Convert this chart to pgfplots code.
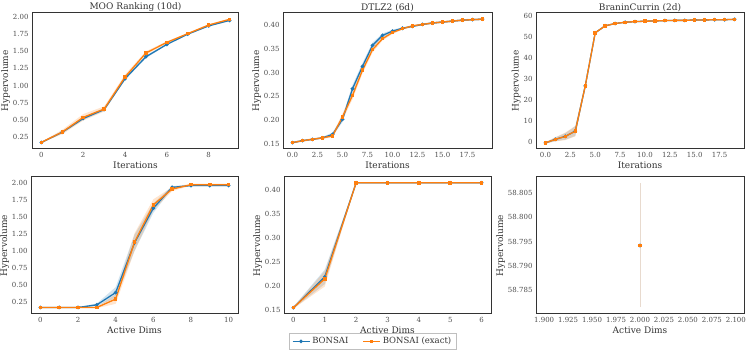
\documentclass[border=0pt]{standalone}
\usepackage{fontspec}
\setmainfont{DejaVu Serif}
\usepackage{pgfplots}
\usepackage{pgfplotstable}
\pgfplotsset{compat=1.18}
\usepgfplotslibrary{fillbetween}
\definecolor{cBlue}{RGB}{31,119,180}
\definecolor{cOrange}{RGB}{255,127,14}
\definecolor{cTan}{RGB}{232,218,206}

% columns: x, mean, lower, upper
\pgfplotstableread{
x m lo hi
0 0.170 0.165 0.175
1 0.320 0.305 0.335
2 0.520 0.500 0.540
3 0.650 0.630 0.670
4 1.100 1.080 1.120
5 1.420 1.400 1.440
6 1.600 1.590 1.610
7 1.750 1.740 1.760
8 1.870 1.862 1.878
9 1.950 1.945 1.955
}\mooB
\pgfplotstableread{
x m lo hi
0 0.172 0.165 0.179
1 0.323 0.290 0.356
2 0.537 0.490 0.584
3 0.658 0.620 0.696
4 1.125 1.090 1.160
5 1.475 1.450 1.500
6 1.630 1.615 1.645
7 1.757 1.747 1.767
8 1.883 1.875 1.891
9 1.966 1.960 1.972
}\mooO
\pgfplotstableread{
x m lo hi
0 0.153 0.151 0.155
1 0.157 0.155 0.159
2 0.160 0.158 0.162
3 0.163 0.161 0.165
4 0.170 0.166 0.174
5 0.202 0.196 0.208
6 0.266 0.258 0.274
7 0.313 0.306 0.320
8 0.357 0.351 0.363
9 0.378 0.374 0.382
10 0.387 0.384 0.390
11 0.393 0.391 0.395
12 0.397 0.395 0.399
13 0.401 0.399 0.403
14 0.404 0.402 0.406
15 0.406 0.404 0.408
16 0.408 0.406 0.410
17 0.410 0.408 0.412
18 0.411 0.409 0.413
19 0.412 0.410 0.414
}\dtB
\pgfplotstableread{
x m lo hi
0 0.153 0.151 0.155
1 0.157 0.155 0.159
2 0.160 0.158 0.162
3 0.163 0.161 0.165
4 0.167 0.164 0.170
5 0.207 0.200 0.214
6 0.252 0.244 0.260
7 0.305 0.298 0.312
8 0.348 0.342 0.354
9 0.371 0.367 0.375
10 0.384 0.381 0.387
11 0.392 0.390 0.394
12 0.398 0.396 0.400
13 0.401 0.399 0.403
14 0.404 0.402 0.406
15 0.406 0.404 0.408
16 0.408 0.406 0.410
17 0.410 0.408 0.412
18 0.411 0.409 0.413
19 0.412 0.410 0.414
}\dtO
\pgfplotstableread{
x m lo hi
0 -0.3 -0.6 0.0
1 1.4 0.5 2.3
2 2.8 1.2 4.4
3 5.3 3.0 7.6
4 26.8 26.0 27.6
5 52.0 51.6 52.4
6 55.3 55.0 55.6
7 56.4 56.2 56.6
8 57.0 56.8 57.2
9 57.3 57.1 57.5
10 57.5 57.3 57.7
11 57.6 57.4 57.8
12 57.8 57.6 58.0
13 57.9 57.7 58.1
14 57.9 57.7 58.1
15 58.1 57.9 58.3
16 58.1 57.9 58.3
17 58.2 58.0 58.4
18 58.2 58.0 58.4
19 58.4 58.2 58.6
}\brB
\pgfplotstableread{
x m lo hi
0 -0.3 -0.6 0.0
1 1.4 0.4 2.4
2 2.8 1.0 4.6
3 5.3 2.8 7.8
4 26.8 26.0 27.6
5 52.0 51.6 52.4
6 55.3 55.0 55.6
7 56.4 56.2 56.6
8 57.0 56.8 57.2
9 57.3 57.1 57.5
10 57.5 57.3 57.7
11 57.6 57.4 57.8
12 57.8 57.6 58.0
13 57.9 57.7 58.1
14 57.9 57.7 58.1
15 58.1 57.9 58.3
16 58.1 57.9 58.3
17 58.2 58.0 58.4
18 58.2 58.0 58.4
19 58.4 58.2 58.6
}\brO
\pgfplotstableread{
x m lo hi
0 0.171 0.168 0.174
1 0.171 0.168 0.174
2 0.171 0.168 0.174
3 0.210 0.190 0.230
4 0.390 0.310 0.470
5 1.120 1.000 1.240
6 1.630 1.560 1.700
7 1.936 1.916 1.956
8 1.962 1.952 1.972
9 1.962 1.952 1.972
10 1.962 1.952 1.972
}\adB
\pgfplotstableread{
x m lo hi
0 0.171 0.168 0.174
1 0.171 0.168 0.174
2 0.171 0.168 0.174
3 0.171 0.161 0.181
4 0.294 0.224 0.364
5 1.130 1.000 1.260
6 1.680 1.600 1.760
7 1.910 1.880 1.940
8 1.975 1.960 1.990
9 1.975 1.960 1.990
10 1.975 1.960 1.990
}\adO
\pgfplotstableread{
x m lo hi
0 0.155 0.153 0.157
1 0.219 0.204 0.234
2 0.414 0.413 0.415
3 0.414 0.413 0.415
4 0.414 0.413 0.415
5 0.414 0.413 0.415
6 0.414 0.413 0.415
}\dsB
\pgfplotstableread{
x m lo hi
0 0.155 0.153 0.157
1 0.215 0.199 0.231
2 0.414 0.413 0.415
3 0.414 0.413 0.415
4 0.414 0.413 0.415
5 0.414 0.413 0.415
6 0.414 0.413 0.415
}\dsO

\pgfplotsset{
  panel/.style={
    scale only axis, anchor=south west,
    axis line style={draw=black!80, line width=1pt},
    major tick length=0pt,
    tick label style={font=\fontsize{7}{8}\selectfont, text=black!70},
    label style={font=\fontsize{9}{10}\selectfont, text=black!80},
    title style={font=\fontsize{9}{10}\selectfont, text=black!80, yshift=-8pt},
    xlabel style={yshift=3pt},
    ylabel style={yshift=-4pt},
    /pgf/number format/assume math mode=true,
    scaled ticks=false,
    ylabel={Hypervolume},
  },
  two/.style={/pgf/number format/.cd, fixed, zerofill, precision=2},
  bandB/.style={fill=cBlue, fill opacity=0.2, draw=none},
  bandO/.style={fill=cOrange, fill opacity=0.2, draw=none},
  lineB/.style={cBlue, line width=1.3pt, mark=*, mark size=1.1pt},
  lineO/.style={cOrange, line width=1.3pt, mark=square*, mark size=1.1pt},
}

% draws band for one series
\newcommand{\series}[3]{%
  \addplot[name path=hi#3, draw=none, forget plot] table[x=x, y=hi]{#1};
  \addplot[name path=lo#3, draw=none, forget plot] table[x=x, y=lo]{#1};
  \addplot[#2, forget plot] fill between[of=hi#3 and lo#3];
}

\begin{document}
\begin{tikzpicture}

% ---- top row ----
\begin{axis}[panel, at={(32pt,204pt)}, width=207pt, height=136pt,
  title={MOO Ranking (10d)}, xlabel={Iterations},
  xmin=-0.45, xmax=9.45, ymin=0.075, ymax=2.058,
  xtick={0,2,4,6,8}, ytick={0.25,0.5,0.75,1.0,1.25,1.5,1.75,2.0},
  yticklabel style={two}]
\series{\mooB}{bandB}{a}
\series{\mooO}{bandO}{b}
\addplot[lineB] table[x=x, y=m]{\mooB};
\addplot[lineO] table[x=x, y=m]{\mooO};
\end{axis}

\begin{axis}[panel, at={(283pt,204pt)}, width=209pt, height=136pt,
  title={DTLZ2 (6d)}, xlabel={Iterations},
  xmin=-0.95, xmax=19.95, ymin=0.1396, ymax=0.425,
  xtick={0,2.5,5,7.5,10,12.5,15,17.5}, ytick={0.15,0.2,0.25,0.3,0.35,0.4},
  xticklabel style={/pgf/number format/.cd, fixed, zerofill, precision=1},
  yticklabel style={two}]
\series{\dtB}{bandB}{a}
\series{\dtO}{bandO}{b}
\addplot[lineB] table[x=x, y=m]{\dtB};
\addplot[lineO] table[x=x, y=m]{\dtO};
\end{axis}

\begin{axis}[panel, at={(536pt,204pt)}, width=208pt, height=136pt,
  title={BraninCurrin (2d)}, xlabel={Iterations},
  xmin=-0.95, xmax=19.95, ymin=-3.2, ymax=61.4,
  xtick={0,2.5,5,7.5,10,12.5,15,17.5}, ytick={0,10,20,30,40,50,60},
  xticklabel style={/pgf/number format/.cd, fixed, zerofill, precision=1}]
\series{\brB}{bandB}{a}
\series{\brO}{bandO}{b}
\addplot[lineB] table[x=x, y=m]{\brB};
\addplot[lineO] table[x=x, y=m]{\brO};
\end{axis}

% ---- bottom row ----
\begin{axis}[panel, at={(31pt,39pt)}, width=207pt, height=137pt,
  xlabel={Active Dims},
  xmin=-0.5, xmax=10.5, ymin=0.075, ymax=2.088,
  xtick={0,2,4,6,8,10}, ytick={0.25,0.5,0.75,1.0,1.25,1.5,1.75,2.0},
  yticklabel style={two}]
\series{\adB}{bandB}{a}
\series{\adO}{bandO}{b}
\addplot[lineB] table[x=x, y=m]{\adB};
\addplot[lineO] table[x=x, y=m]{\adO};
\end{axis}

\begin{axis}[panel, at={(284pt,39pt)}, width=207pt, height=137pt,
  xlabel={Active Dims},
  xmin=-0.3, xmax=6.3, ymin=0.142, ymax=0.426,
  xtick={0,1,2,3,4,5,6}, ytick={0.15,0.2,0.25,0.3,0.35,0.4},
  yticklabel style={two},
  legend columns=2,
  legend style={at={(0.428,-0.2)}, anchor=center, draw=black!25,
    font=\fontsize{8.5}{10}\selectfont, text=black!80,
    /tikz/every even column/.append style={column sep=12pt}},
  legend cell align=left]
\series{\dsB}{bandB}{a}
\series{\dsO}{bandO}{b}
\addplot[lineB] table[x=x, y=m]{\dsB};
\addplot[lineO] table[x=x, y=m]{\dsO};
\legend{BONSAI, BONSAI (exact)}
\end{axis}

% y values are shifted by 58.79 and scaled by 1000 to keep TeX in range
\begin{axis}[panel, at={(536pt,39pt)}, width=208pt, height=137pt,
  xlabel={Active Dims},
  y filter/.expression={(y-58.79)*1000},
  xmin=1.8915, xmax=2.1085, ymin=-9.9, ymax=18.3,
  xtick={1.9,1.925,1.95,1.975,2.0,2.025,2.05,2.075,2.1},
  xticklabels={1.900,1.925,1.950,1.975,2.000,2.025,2.050,2.075,2.100},
  ytick={-5,0,5,10,15},
  yticklabels={58.785,58.790,58.795,58.800,58.805}]
\addplot[cTan, line width=0.8pt] coordinates {(2.0,58.7815) (2.0,58.8071)};
\addplot[lineB, draw=none] coordinates {(2.0,58.7942)};
\addplot[lineO, draw=none] coordinates {(2.0,58.7942)};
\end{axis}

\pgfresetboundingbox
\path[use as bounding box] (0pt,0pt) rectangle (747pt,353pt);
\end{tikzpicture}
\end{document}
